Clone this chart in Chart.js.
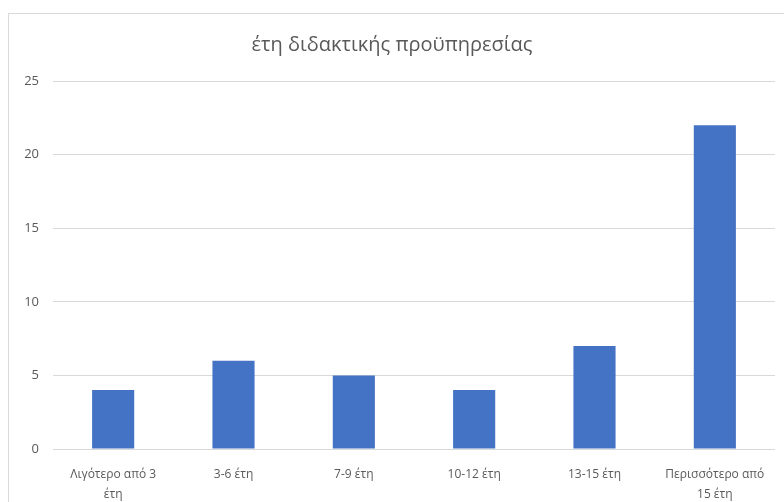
<!DOCTYPE html>
<html>
<head>
<meta charset="utf-8">
<script src="https://cdn.jsdelivr.net/npm/chart.js@4"></script>
<style>
  body { margin: 0; background: #fff; }
  #frame {
    position: absolute; left: 8px; top: 13px;
    width: 780px; height: 495px;
    border: 1px solid #d9d9d9;
  }
</style>
</head>
<body>
<div id="frame"><canvas id="chart" width="775" height="490"></canvas></div>
<script>
// ================= DATA =================
const chartTitle = "έτη διδακτικής προϋπηρεσίας";
const categories = [
  ["Λιγότερο από 3", "έτη"],
  "3-6 έτη",
  "7-9 έτη",
  "10-12 έτη",
  "13-15 έτη",
  ["Περισσότερο από", "15 έτη"]
];
const counts = [4, 6, 5, 4, 7, 22];
const yTicks = [0, 5, 10, 15, 20, 25];

// ================= CHART =================
const grey = "#595959";
const ctx = document.getElementById("chart");

new Chart(ctx, {
  type: "bar",
  data: {
    labels: categories,
    datasets: [{
      data: counts,
      backgroundColor: "#4472c4",
      barPercentage: 0.35,
      categoryPercentage: 1
    }]
  },
  options: {
    responsive: false,
    animation: false,
    layout: { padding: { left: 0, right: 9, top: 0, bottom: 0 } },
    plugins: {
      legend: { display: false },
      tooltip: { enabled: false },
      title: {
        display: true,
        text: chartTitle,
        color: grey,
        font: { family: "Open Sans", size: 20, weight: "normal" },
        padding: { top: 19, bottom: 24 }
      }
    },
    scales: {
      x: {
        grid: { display: false },
        border: { display: false },
        ticks: {
          color: grey,
          font: { family: "Open Sans", size: 12, lineHeight: 1.65 },
          maxRotation: 0,
          autoSkip: false,
          padding: 8
        },
        afterFit: s => { s.height = 55; }
      },
      y: {
        min: 0,
        max: 25,
        afterBuildTicks: s => { s.ticks = yTicks.map(v => ({ value: v })); },
        grid: { color: "#d9d9d9", drawTicks: false },
        border: { display: false },
        ticks: {
          color: grey,
          font: { family: "Open Sans", size: 13 },
          padding: 14
        },
        afterFit: s => { s.width = 44; }
      }
    }
  }
});
</script>
</body>
</html>
